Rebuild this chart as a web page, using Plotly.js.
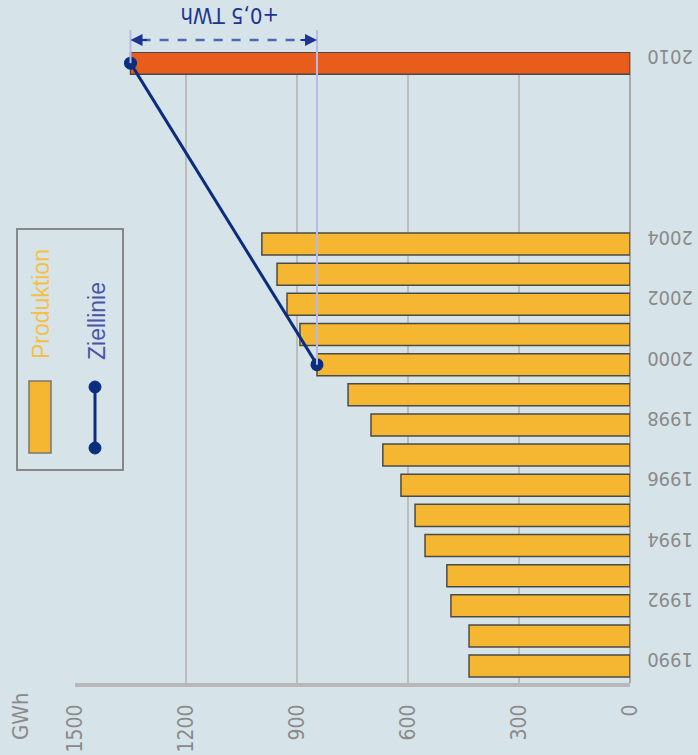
<!DOCTYPE html>
<html>
<head>
<meta charset="utf-8">
<script src="https://cdn.plot.ly/plotly-3.0.1.min.js"></script>
<style>html,body{margin:0;padding:0;background:#d6e4e9;}</style>
</head>
<body>
<div id="chart" style="width:698px;height:755px;"></div>
<script>
// Data
const years = [1990,1991,1992,1993,1994,1995,1996,1997,1998,1999,2000,2001,2002,2003,2004,2010];
const production = [435,435,484,495,554,581,619,668,700,762,846,892,927,954,995,1350];
const targetYears = [2000, 2010];
const targetValues = [846, 1350];
const yearTicks = [1990,1992,1994,1996,1998,2000,2002,2004,2010];
const valueTicks = [0,300,600,900,1200,1500];
const seriesNames = ['Produktion','Ziellinie'];
const unitLabel = 'GWh';
const diffLabel = '+0,5 TWh';

const FONT = 'DejaVu Sans Condensed, Liberation Sans Narrow, Liberation Sans, Arial, sans-serif';
const LFONT = 'Liberation Sans, Arial, sans-serif';
const barColors = years.map(y => y === 2010 ? '#e85d1c' : '#f5b731');

const traces = [
  {
    type: 'bar', orientation: 'h', name: seriesNames[0],
    x: production, y: years, width: 0.73,
    marker: {color: barColors, line: {color: '#4a4a4a', width: 1.5}},
    hoverinfo: 'x+y'
  },
  {
    type: 'scatter', mode: 'lines+markers', name: seriesNames[1],
    x: targetValues, y: targetYears,
    line: {color: '#0b2d7e', width: 3},
    marker: {color: '#0b2d7e', size: 13}
  }
];

const px = v => (v - 75) / 555;   // page px -> paper x
const py = v => (683 - v) / 631;  // page px -> paper y

const lav = '#b9b9e6';
const shapes = [
  // vertical reference lines (inside plot, then above plot)
  {type:'line', xref:'x', yref:'y', x0:targetValues[1], x1:targetValues[1], y0:targetYears[1], y1:2012, line:{color:lav, width:2}, layer:'above'},
  {type:'line', xref:'x', yref:'y', x0:targetValues[0], x1:targetValues[0], y0:targetYears[0], y1:2012, line:{color:lav, width:2}, layer:'above'},
  {type:'line', xref:'x', yref:'paper', x0:targetValues[1], x1:targetValues[1], y0:1, y1:py(30), line:{color:lav, width:2}},
  {type:'line', xref:'x', yref:'paper', x0:targetValues[0], x1:targetValues[0], y0:1, y1:py(30), line:{color:lav, width:2}},
  // dashed difference line
  {type:'line', xref:'x', yref:'paper', x0:targetValues[1]-30, x1:targetValues[0]+30, y0:py(40), y1:py(40), line:{color:'#5563b0', width:2.5, dash:'dash'}},
  // legend box
  {type:'rect', xref:'paper', yref:'paper', x0:px(17), x1:px(123), y0:py(470), y1:py(229), line:{color:'#888888', width:2}, fillcolor:'rgba(0,0,0,0)'},
  {type:'rect', xref:'paper', yref:'paper', x0:px(29), x1:px(51), y0:py(453), y1:py(381), line:{color:'#777777', width:1.5}, fillcolor:'#f5b731'},
  {type:'line', xref:'paper', yref:'paper', x0:px(95), x1:px(95), y0:py(448), y1:py(387), line:{color:'#0b2d7e', width:3}},
  {type:'circle', xref:'paper', yref:'paper', xsizemode:'pixel', ysizemode:'pixel', xanchor:px(95), yanchor:py(448), x0:-6, x1:6, y0:-6, y1:6, fillcolor:'#0b2d7e', line:{color:'#0b2d7e', width:1}},
  {type:'circle', xref:'paper', yref:'paper', xsizemode:'pixel', ysizemode:'pixel', xanchor:px(95), yanchor:py(387), x0:-6, x1:6, y0:-6, y1:6, fillcolor:'#0b2d7e', line:{color:'#0b2d7e', width:1}}
];

const ann = (o) => Object.assign({xanchor:'center', yanchor:'middle', showarrow:false}, o);
const annotations = [
  ann({xref:'paper', yref:'paper', x:px(230), y:py(16), text:diffLabel, textangle:180, font:{family:FONT, size:22, color:'#1d3590'}}),
  {xref:'x', yref:'paper', x:targetValues[1], y:py(40), ax:18, ay:0, text:'', showarrow:true, arrowhead:2, arrowsize:1.2, arrowwidth:2, arrowcolor:'#1d3590'},
  {xref:'x', yref:'paper', x:targetValues[0], y:py(40), ax:-18, ay:0, text:'', showarrow:true, arrowhead:2, arrowsize:1.2, arrowwidth:2, arrowcolor:'#1d3590'},
  ann({xref:'paper', yref:'paper', x:px(41), y:py(304), text:seriesNames[0], textangle:-90, font:{family:LFONT, size:23, color:'#f7bf45'}}),
  ann({xref:'paper', yref:'paper', x:px(97), y:py(321), text:seriesNames[1], textangle:-90, font:{family:LFONT, size:23, color:'#4a55a8'}}),
  ann({xref:'paper', yref:'paper', x:px(20), y:py(717), text:unitLabel, textangle:-90, font:{family:FONT, size:22, color:'#8a8a8a'}})
];

const layout = {
  width: 698, height: 755,
  margin: {l:75, r:68, t:52, b:72, pad:0},
  paper_bgcolor: '#d6e4e9', plot_bgcolor: '#d6e4e9',
  showlegend: false,
  font: {family: FONT, color: '#8a8a8a'},
  xaxis: {
    range: [1500, 0], tickvals: valueTicks, ticktext: valueTicks.map(String),
    tickangle: -90, tickfont: {family: FONT, size: 21, color: '#8a8a8a'},
    showgrid: true, gridcolor: '#bdbdbd', gridwidth: 2.5,
    zeroline: true, zerolinecolor: '#a8a8a8', zerolinewidth: 2.5,
    showline: true, linecolor: '#b8b8b8', linewidth: 4,
    ticks: 'outside', ticklen: 9, tickcolor: 'rgba(0,0,0,0)', fixedrange: true
  },
  yaxis: {
    range: [1989.44, 2010.37], side: 'right',
    tickvals: yearTicks, ticktext: yearTicks.map(String),
    tickangle: 180, tickfont: {family: FONT, size: 20, color: '#8a8a8a'},
    showgrid: false, zeroline: false, showline: false,
    ticks: 'outside', ticklen: 14, tickcolor: 'rgba(0,0,0,0)',
    ticklabelstandoff: 44, fixedrange: true
  },
  bargap: 0.27,
  shapes: shapes,
  annotations: annotations
};

Plotly.newPlot('chart', traces, layout, {displayModeBar: false, staticPlot: true});
</script>
</body>
</html>
